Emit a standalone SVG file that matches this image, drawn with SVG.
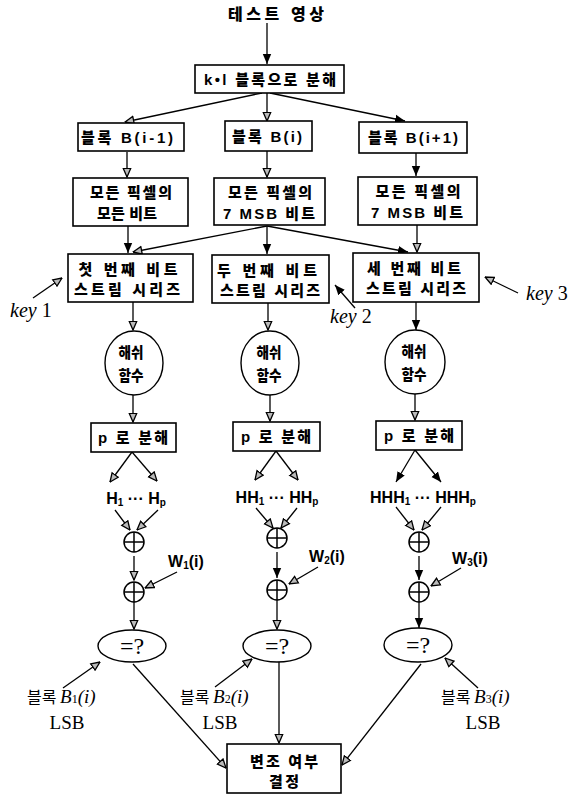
<svg xmlns="http://www.w3.org/2000/svg" width="587" height="796" viewBox="0 0 587 796">
<style>
.bx{fill:#fff;stroke:#000;stroke-width:1.6}
.el{fill:#fff;stroke:#000;stroke-width:1.4}
.cn line{stroke:#000;stroke-width:1.3}
.h{marker-end:url(#ah)}
.f{marker-end:url(#af)}
.t{font-family:"Liberation Sans","Noto Sans CJK KR",sans-serif;font-weight:900;font-size:15px;text-anchor:middle}
.s{font-family:"Liberation Sans",Arial,sans-serif;font-weight:bold;font-size:16px;text-anchor:middle}
.k{font-family:"Liberation Serif","Times New Roman",serif;font-size:20px}
.lb{font-family:"Noto Sans CJK KR",sans-serif;font-size:16px}
.sv{font-family:"Liberation Serif","Times New Roman",serif;font-size:19px}
.ox{fill:#fff;stroke:#000;stroke-width:1.5}
.oxl{stroke:#000;stroke-width:1.5;fill:none}
</style>
<defs>
<marker id="af" viewBox="0 0 10 10" refX="10" refY="5" markerWidth="10" markerHeight="10" markerUnits="userSpaceOnUse" orient="auto"><path d="M0,0.8 L10,5 L0,9.2 z" fill="#000"/></marker>
<marker id="ah" viewBox="0 0 10 10" refX="9.5" refY="5" markerWidth="10" markerHeight="10" markerUnits="userSpaceOnUse" orient="auto"><path d="M0.8,1.2 L9.5,5 L0.8,8.8 z" fill="#bbb" stroke="#000" stroke-width="1.3"/></marker>
</defs>
<g id="connectors" class="cn">
<line class="f" x1="267" y1="23" x2="267" y2="64"/>
<line class="h" x1="262" y1="93" x2="125" y2="122"/>
<line class="h" x1="267" y1="93" x2="267" y2="121"/>
<line class="f" x1="270" y1="93" x2="405" y2="121"/>
<line class="h" x1="127" y1="152" x2="127" y2="177"/>
<line class="h" x1="267" y1="151" x2="267" y2="177"/>
<line class="f" x1="416" y1="153" x2="416" y2="176"/>
<line class="f" x1="128" y1="226" x2="128" y2="253"/>
<line class="h" x1="267" y1="226" x2="133" y2="252"/>
<line class="f" x1="267" y1="226" x2="267" y2="254"/>
<line class="f" x1="267" y1="226" x2="408" y2="252"/>
<line class="h" x1="417" y1="225" x2="417" y2="252"/>
<line class="h" x1="33" y1="298" x2="62" y2="278"/>
<line class="f" x1="355" y1="308" x2="335" y2="285"/>
<line class="h" x1="518" y1="293" x2="485" y2="277"/>
<line class="h" x1="133" y1="302" x2="133" y2="330"/>
<line class="h" x1="268" y1="303" x2="268" y2="330"/>
<line class="f" x1="416" y1="302" x2="416" y2="330"/>
<line class="h" x1="133" y1="395" x2="133" y2="422"/>
<line class="h" x1="270" y1="395" x2="270" y2="421"/>
<line class="h" x1="415" y1="394" x2="415" y2="420"/>
<line class="h" x1="132" y1="452" x2="110" y2="482"/>
<line class="h" x1="132" y1="452" x2="157" y2="481"/>
<line class="h" x1="276" y1="451" x2="255" y2="480"/>
<line class="h" x1="276" y1="451" x2="298" y2="480"/>
<line class="f" x1="415" y1="450" x2="396" y2="482"/>
<line class="f" x1="415" y1="450" x2="441" y2="482"/>
<line class="h" x1="115" y1="510" x2="130" y2="530"/>
<line class="h" x1="158" y1="510" x2="137" y2="530"/>
<line class="h" x1="256" y1="508" x2="273" y2="528"/>
<line class="h" x1="297" y1="508" x2="281" y2="528"/>
<line class="h" x1="396" y1="507" x2="414" y2="530"/>
<line class="h" x1="441" y1="507" x2="422" y2="530"/>
<line class="h" x1="134" y1="556" x2="134" y2="580"/>
<line class="f" x1="277" y1="552" x2="277" y2="578"/>
<line class="f" x1="419" y1="556" x2="419" y2="580"/>
<line class="h" x1="177" y1="572" x2="145" y2="588"/>
<line class="h" x1="318" y1="567" x2="289" y2="584"/>
<line class="h" x1="461" y1="568" x2="431" y2="586"/>
<line class="h" x1="134" y1="602" x2="134" y2="629"/>
<line class="h" x1="277" y1="600" x2="277" y2="629"/>
<line class="f" x1="419" y1="602" x2="419" y2="628"/>
<line class="h" x1="63" y1="688" x2="100" y2="662"/>
<line class="h" x1="215" y1="687" x2="252" y2="659"/>
<line class="h" x1="478" y1="688" x2="445" y2="658"/>
<line class="h" x1="133" y1="664" x2="226" y2="768"/>
<line class="h" x1="279" y1="662" x2="279" y2="743"/>
<line class="h" x1="421" y1="664" x2="342" y2="765"/>
</g>
<g id="title"><text class="t" x="276" y="20" style="font-size:16px" textLength="96" lengthAdjust="spacing">테스트 영상</text></g>
<g id="split"><rect class="bx" x="195" y="65" width="149" height="28"/><text class="t" x="270" y="85" textLength="132" lengthAdjust="spacing">k•l 블록으로 분해</text></g>
<g id="blk-prev"><rect class="bx" x="78" y="123" width="106" height="28"/><text class="t" x="127" y="143" textLength="92" lengthAdjust="spacing">블록 B(i-1)</text></g>
<g id="blk-cur"><rect class="bx" x="225" y="121" width="87" height="30"/><text class="t" x="267" y="142" textLength="70" lengthAdjust="spacing">블록 B(i)</text></g>
<g id="blk-next"><rect class="bx" x="359" y="122" width="108" height="31"/><text class="t" x="413" y="143" textLength="90" lengthAdjust="spacing">블록 B(i+1)</text></g>
<g id="bits1"><rect class="bx" x="73" y="178" width="115" height="48"/><text class="t" x="131" y="198" textLength="82" lengthAdjust="spacing">모든 픽셀의</text><text class="t" x="127" y="219" textLength="60" lengthAdjust="spacing">모든 비트</text></g>
<g id="bits2"><rect class="bx" x="214" y="178" width="111" height="47"/><text class="t" x="270" y="198" textLength="84" lengthAdjust="spacing">모든 픽셀의</text><text class="t" x="269" y="219" textLength="92" lengthAdjust="spacing">7 MSB 비트</text></g>
<g id="bits3"><rect class="bx" x="358" y="177" width="119" height="48"/><text class="t" x="418" y="197" textLength="85" lengthAdjust="spacing">모든 픽셀의</text><text class="t" x="417" y="218" textLength="92" lengthAdjust="spacing">7 MSB 비트</text></g>
<g id="stream1"><rect class="bx" x="68" y="254" width="125" height="48"/><text class="t" x="128" y="275" textLength="99" lengthAdjust="spacing">첫 번째 비트</text><text class="t" x="127" y="295" textLength="106" lengthAdjust="spacing">스트림 시리즈</text></g>
<g id="stream2"><rect class="bx" x="212" y="255" width="117" height="48"/><text class="t" x="267" y="276" textLength="100" lengthAdjust="spacing">두 번째 비트</text><text class="t" x="270" y="296" textLength="100" lengthAdjust="spacing">스트림 시리즈</text></g>
<g id="stream3"><rect class="bx" x="353" y="253" width="126" height="49"/><text class="t" x="414" y="274" textLength="94" lengthAdjust="spacing">세 번째 비트</text><text class="t" x="416" y="294" textLength="100" lengthAdjust="spacing">스트림 시리즈</text></g>
<g id="key1"><text class="k" x="10" y="317"><tspan font-style="italic">key</tspan> 1</text></g>
<g id="key2"><text class="k" x="330" y="323"><tspan font-style="italic">key</tspan> 2</text></g>
<g id="key3"><text class="k" x="526" y="300"><tspan font-style="italic">key</tspan> 3</text></g>
<g id="hash1"><ellipse class="el" cx="134" cy="363" rx="29" ry="32"/><text class="t" x="131" y="358" style="font-size:15px" textLength="25" lengthAdjust="spacingAndGlyphs">해쉬</text><text class="t" x="131" y="381" style="font-size:15px" textLength="25" lengthAdjust="spacingAndGlyphs">함수</text></g>
<g id="hash2"><ellipse class="el" cx="270" cy="363" rx="29" ry="32"/><text class="t" x="269" y="358" style="font-size:15px" textLength="25" lengthAdjust="spacingAndGlyphs">해쉬</text><text class="t" x="269" y="381" style="font-size:15px" textLength="25" lengthAdjust="spacingAndGlyphs">함수</text></g>
<g id="hash3"><ellipse class="el" cx="415" cy="362" rx="30" ry="32"/><text class="t" x="414" y="357" style="font-size:15px" textLength="25" lengthAdjust="spacingAndGlyphs">해쉬</text><text class="t" x="414" y="380" style="font-size:15px" textLength="25" lengthAdjust="spacingAndGlyphs">함수</text></g>
<g id="p1"><rect class="bx" x="91" y="423" width="85" height="29"/><text class="t" x="133" y="443" textLength="70" lengthAdjust="spacing">p 로 분해</text></g>
<g id="p2"><rect class="bx" x="233" y="422" width="87" height="29"/><text class="t" x="276" y="442" textLength="70" lengthAdjust="spacing">p 로 분해</text></g>
<g id="p3"><rect class="bx" x="376" y="421" width="86" height="29"/><text class="t" x="419" y="441" textLength="70" lengthAdjust="spacing">p 로 분해</text></g>
<g id="h1"><text class="s" x="136" y="504">H<tspan style="font-size:10px" dy="2">1</tspan><tspan dy="-2"> ··· H</tspan><tspan style="font-size:10px" dy="2">p</tspan></text></g>
<g id="h2"><text class="s" x="277" y="503">HH<tspan style="font-size:10px" dy="2">1</tspan><tspan dy="-2"> ··· HH</tspan><tspan style="font-size:10px" dy="2">p</tspan></text></g>
<g id="h3"><text class="s" x="423" y="503">HHH<tspan style="font-size:10px" dy="2">1</tspan><tspan dy="-2"> ··· HHH</tspan><tspan style="font-size:10px" dy="2">p</tspan></text></g>
<g id="xor1a"><circle class="ox" cx="134" cy="542" r="10"/><path class="oxl" d="M124,542 H144 M134,532 V552"/></g>
<g id="xor2a"><circle class="ox" cx="277" cy="538" r="10"/><path class="oxl" d="M267,538 H287 M277,528 V548"/></g>
<g id="xor3a"><circle class="ox" cx="419" cy="542" r="10"/><path class="oxl" d="M409,542 H429 M419,532 V552"/></g>
<g id="xor1b"><circle class="ox" cx="134" cy="592" r="10"/><path class="oxl" d="M124,592 H144 M134,582 V602"/></g>
<g id="xor2b"><circle class="ox" cx="277" cy="590" r="10"/><path class="oxl" d="M267,590 H287 M277,580 V600"/></g>
<g id="xor3b"><circle class="ox" cx="419" cy="592" r="10"/><path class="oxl" d="M409,592 H429 M419,582 V602"/></g>
<g id="w1"><text class="s" x="186" y="567">W<tspan style="font-size:10px" dy="2">1</tspan><tspan dy="-2">(i)</tspan></text></g>
<g id="w2"><text class="s" x="327" y="562">W<tspan style="font-size:10px" dy="2">2</tspan><tspan dy="-2">(i)</tspan></text></g>
<g id="w3"><text class="s" x="470" y="564">W<tspan style="font-size:10px" dy="2">3</tspan><tspan dy="-2">(i)</tspan></text></g>
<g id="cmp1"><ellipse class="el" cx="132" cy="646" rx="34" ry="16"/><text class="sv" x="132" y="654" style="font-size:24px;text-anchor:middle">=?</text></g>
<g id="cmp2"><ellipse class="el" cx="277" cy="646" rx="34" ry="16"/><text class="sv" x="277" y="654" style="font-size:24px;text-anchor:middle">=?</text></g>
<g id="cmp3"><ellipse class="el" cx="418" cy="645" rx="34" ry="17"/><text class="sv" x="418" y="653" style="font-size:24px;text-anchor:middle">=?</text></g>
<g id="lsb1"><text x="27" y="703"><tspan class="lb">블록 </tspan><tspan class="sv" font-style="italic">B</tspan><tspan class="sv" style="font-size:12px">1</tspan><tspan class="sv" font-style="italic">(i)</tspan></text><text class="sv" x="67" y="729" style="text-anchor:middle">LSB</text></g>
<g id="lsb2"><text x="180" y="703"><tspan class="lb">블록 </tspan><tspan class="sv" font-style="italic">B</tspan><tspan class="sv" style="font-size:12px">2</tspan><tspan class="sv" font-style="italic">(i)</tspan></text><text class="sv" x="220" y="729" style="text-anchor:middle">LSB</text></g>
<g id="lsb3"><text x="441" y="703"><tspan class="lb">블록 </tspan><tspan class="sv" font-style="italic">B</tspan><tspan class="sv" style="font-size:12px">3</tspan><tspan class="sv" font-style="italic">(i)</tspan></text><text class="sv" x="483" y="729" style="text-anchor:middle">LSB</text></g>
<g id="decide"><rect class="bx" x="227" y="744" width="114" height="49"/><text class="t" x="284" y="767" textLength="68" lengthAdjust="spacing">변조 여부</text><text class="t" x="284" y="787" textLength="30" lengthAdjust="spacing">결정</text></g>
</svg>
